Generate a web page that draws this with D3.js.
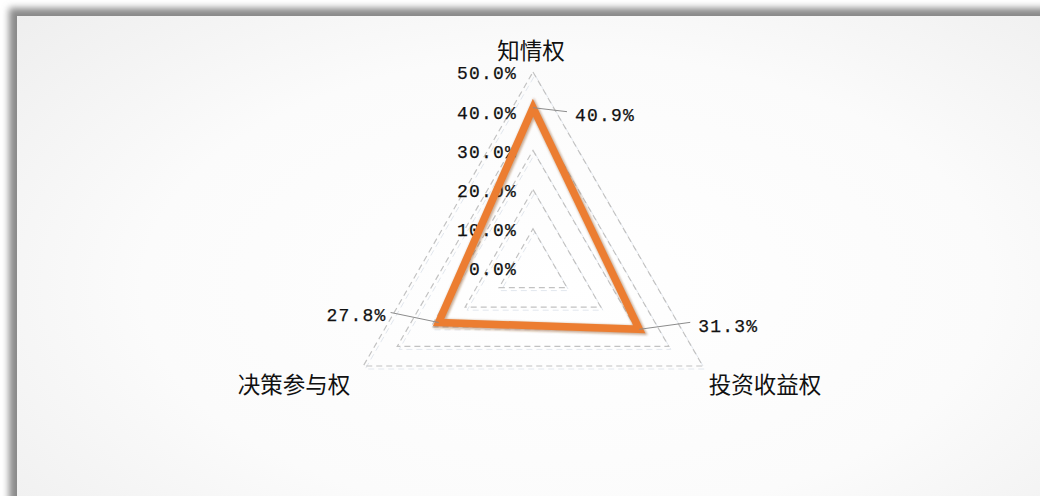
<!DOCTYPE html>
<html><head><meta charset="utf-8">
<script src="https://cdn.jsdelivr.net/npm/d3@7"></script>
<style>html,body{margin:0;padding:0;background:#fff;overflow:hidden}</style>
</head><body>
<svg id="c" width="1040" height="496"></svg>
<script>
const categories = ["知情权", "投资收益权", "决策参与权"];
const values = [0.409, 0.313, 0.278];
const valueLabels = ["40.9%", "31.3%", "27.8%"];
const ticks = [0, 0.1, 0.2, 0.3, 0.4, 0.5];
const tickLabels = ["0.0%", "10.0%", "20.0%", "30.0%", "40.0%", "50.0%"];

const svg = d3.select("#c");
const defs = svg.append("defs");
const rg = defs.append("radialGradient").attr("id","bg").attr("cx","50%").attr("cy","45%").attr("r","70%");
rg.append("stop").attr("offset","0%").attr("stop-color","#ffffff");
rg.append("stop").attr("offset","55%").attr("stop-color","#fbfbfb");
rg.append("stop").attr("offset","100%").attr("stop-color","#ededed");
const sh = defs.append("filter").attr("id","sh").attr("x","-5%").attr("y","-5%").attr("width","110%").attr("height","110%");
sh.append("feGaussianBlur").attr("stdDeviation",3.5);
const ls = defs.append("filter").attr("id","ls").attr("x","-10%").attr("y","-10%").attr("width","120%").attr("height","120%");
ls.append("feGaussianBlur").attr("stdDeviation",1.2);

// frame shadow + panel
svg.append("rect").attr("x",9).attr("y",8).attr("width",1100).attr("height",600).attr("fill","#8a8a8a").attr("filter","url(#sh)");
svg.append("rect").attr("x",17).attr("y",16).attr("width",1100).attr("height",600).attr("fill","url(#bg)");

const cx = 533, cy = 268, R = 196;
const r = d3.scaleLinear().domain([0, 0.5]).range([0, R]);
const ang = d3.scaleLinear().domain([0, categories.length]).range([0, 2*Math.PI]);
const pt = (i, v) => [cx + r(v)*Math.sin(ang(i)), cy - r(v)*Math.cos(ang(i))];
const line = d3.line().curve(d3.curveLinearClosed);

// grid
const g = svg.append("g");
ticks.filter(t => t > 0).forEach(t => {
  const pts = categories.map((c,i) => pt(i,t));
  g.append("path").attr("d", line(pts)).attr("fill","none")
    .attr("stroke","#e2e7ee").attr("stroke-width",1).attr("stroke-dasharray","6,4")
    .attr("transform","translate(2,3)");
  g.append("path").attr("d", line(pts)).attr("fill","none")
    .attr("stroke","#c2c2c2").attr("stroke-width",1.2).attr("stroke-dasharray","6,4");
});

// tick labels
const mono = "'Liberation Mono','DejaVu Sans Mono',monospace";
svg.append("g").selectAll("text").data(ticks).join("text")
  .attr("x", cx - 16).attr("y", d => cy - r(d) + 1).attr("dy","0.35em")
  .attr("text-anchor","end").attr("font-family",mono).attr("font-size",18)
  .attr("letter-spacing",1.2).attr("fill","#111").attr("stroke","#111").attr("stroke-width",0.25)
  .text((d,i) => tickLabels[i]);

// series
const spts = values.map((v,i) => pt(i,v));
svg.append("path").attr("d", line(spts)).attr("fill","none")
  .attr("stroke","#8a4a1c").attr("stroke-opacity",0.45).attr("stroke-width",9)
  .attr("stroke-linejoin","miter").attr("filter","url(#ls)").attr("transform","translate(1,1)");
svg.append("path").attr("d", line(spts)).attr("fill","none")
  .attr("stroke","#ec7d31").attr("stroke-width",7.5).attr("stroke-linejoin","miter");

// value labels with leader lines
const lab = [
  {dx: 34, dy: 4, tx: 42, ty: 7, anchor: "start"},
  {dx: 51, dy: -7, tx: 59, ty: -4, anchor: "start"},
  {dx: -48, dy: -10, tx: -52, ty: -8, anchor: "end"}
];
values.forEach((v,i) => {
  const [x,y] = spts[i];
  const L = lab[i];
  svg.append("line").attr("x1",x).attr("y1",y).attr("x2",x+L.dx).attr("y2",y+L.dy)
    .attr("stroke","#8c8c8c").attr("stroke-width",1);
  svg.append("text").attr("x",x+L.tx).attr("y",y+L.ty).attr("dy","0.35em")
    .attr("text-anchor",L.anchor).attr("font-family",mono).attr("font-size",18)
    .attr("letter-spacing",1.2).attr("fill","#111").attr("stroke","#111").attr("stroke-width",0.25)
    .text(valueLabels[i]);
});

// category labels
const catPos = [[-2, -217], [232, 117], [-239, 117]];
categories.forEach((c,i) => {
  svg.append("text").attr("x", cx + catPos[i][0]).attr("y", cy + catPos[i][1]).attr("dy","0.35em")
    .attr("text-anchor","middle").attr("font-family","'Noto Sans CJK SC',sans-serif")
    .attr("font-size",22.5).attr("fill","#111").text(c);
});
</script>
</body></html>
